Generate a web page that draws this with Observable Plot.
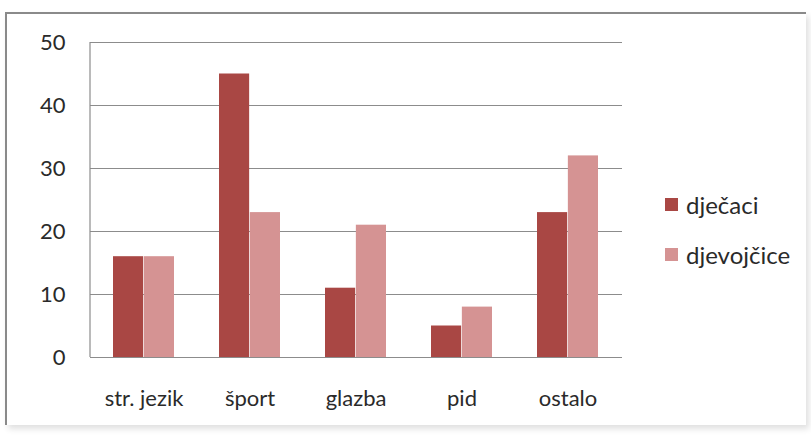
<!DOCTYPE html>
<html>
<head>
<meta charset="utf-8">
<script src="https://cdn.jsdelivr.net/npm/d3@7"></script>
<script src="https://cdn.jsdelivr.net/npm/@observablehq/plot@0.6"></script>
<style>
  html, body { margin: 0; padding: 0; background: #fff; }
  #wrap { position: relative; width: 811px; height: 436px; overflow: hidden; font-family: Lato, "Open Sans", sans-serif; }
  #frame { position: absolute; left: 5px; top: 12px; width: 801px; height: 413px;
           border-top: 2px solid #8a8a8a; border-left: 2px solid #8a8a8a;
           box-shadow: 3px 4px 6px rgba(0,0,0,0.12); box-sizing: border-box; }
  #chart { position: absolute; left: 0; top: 0; }
  #legend { position: absolute; left: 665px; top: 192px; font-size: 24px; color: #2a2a2a; }
  .item { display: flex; align-items: center; height: 25px; margin-bottom: 25px; }
  .sw { width: 13px; height: 13px; margin-right: 8px; flex: none; }
</style>
</head>
<body>
<div id="wrap">
  <div id="frame"></div>
  <div id="chart"></div>
  <div id="legend"></div>
</div>
<script>
const categories = ["str. jezik", "šport", "glazba", "pid", "ostalo"];
const series = ["dječaci", "djevojčice"];
const boys = [16, 45, 11, 5, 23];
const girls = [16, 23, 21, 8, 32];
const yTicks = [0, 10, 20, 30, 40, 50];
const colors = ["#A94744", "#D59393"];

const data = categories.map((c, i) => ({cat: c, boys: boys[i], girls: girls[i]}));

const W = 811, H = 436;
const mL = 90, mR = 189, mT = 42, mB = 79;
const pad = 0.42;
const bw = (W - mL - mR) / categories.length * (1 - pad);

const chart = Plot.plot({
  width: W, height: H,
  marginLeft: mL, marginRight: mR, marginTop: mT, marginBottom: mB,
  style: {fontFamily: "Lato, 'Open Sans', sans-serif", fontSize: "22px", color: "#2a2a2a", background: "transparent"},
  x: {domain: categories, paddingInner: pad, paddingOuter: pad / 2, label: null},
  y: {domain: [0, 50], label: null},
  marks: [
    Plot.ruleY(yTicks, {stroke: "#8c8c8c", strokeWidth: 1.2}),
    Plot.barY(data, {x: "cat", y: "boys", fill: colors[0], insetRight: bw / 2}),
    Plot.barY(data, {x: "cat", y: "girls", fill: colors[1], insetLeft: bw / 2}),
    Plot.axisY({ticks: yTicks, tickSize: 0, tickPadding: 25, label: null, fill: "#2a2a2a"}),
    Plot.axisX({tickSize: 0, tickPadding: 33, label: null, fill: "#2a2a2a"})
  ]
});
document.getElementById("chart").appendChild(chart);

// left axis line drawn from the y scale
const yS = chart.scale("y");
d3.select(chart).append("line")
  .attr("x1", mL).attr("x2", mL)
  .attr("y1", yS.apply(50)).attr("y2", yS.apply(0))
  .attr("stroke", "#8c8c8c").attr("stroke-width", 1.2);

const legend = document.getElementById("legend");
series.forEach((s, i) => {
  const it = document.createElement("div");
  it.className = "item";
  it.innerHTML = `<div class="sw" style="background:${colors[i]}"></div><span>${s}</span>`;
  legend.appendChild(it);
});
</script>
</body>
</html>
